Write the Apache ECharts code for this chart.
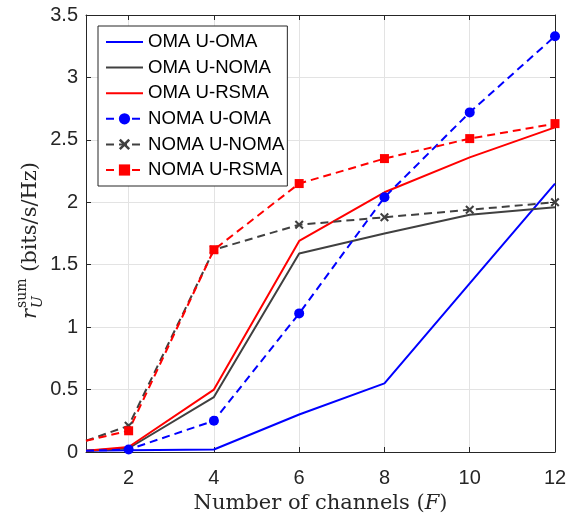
<!DOCTYPE html>
<html>
<head>
<meta charset="utf-8">
<script src="https://cdn.jsdelivr.net/npm/echarts@6/dist/echarts.min.js"></script>
<style>html,body{margin:0;padding:0;background:#fff;}#c{width:580px;height:521px;}</style>
</head>
<body>
<div id="c"></div>
<script>
const xValues = [1, 2, 4, 6, 8, 10, 12];
const xTicks = [2, 4, 6, 8, 10, 12];
const omaUoma  = [0.01, 0.015, 0.02, 0.30, 0.55, 1.35, 2.15];
const omaUnoma = [0.01, 0.03, 0.44, 1.59, 1.75, 1.90, 1.96];
const omaUrsma = [0.01, 0.04, 0.50, 1.69, 2.08, 2.36, 2.60];
const nomaUoma  = [0.01, 0.02, 0.25, 1.11, 2.04, 2.72, 3.33];
const nomaUnoma = [0.09, 0.21, 1.62, 1.82, 1.88, 1.94, 2.00];
const nomaUrsma = [0.09, 0.17, 1.62, 2.15, 2.35, 2.51, 2.63];
const seriesNames = ['OMA U-OMA', 'OMA U-NOMA', 'OMA U-RSMA', 'NOMA U-OMA', 'NOMA U-NOMA', 'NOMA U-RSMA'];

const BLUE = '#0000ff', GRAY = '#404040', RED = '#ff0000';
const XSYM = 'path://M0,1.6L1.6,0L5,3.4L8.4,0L10,1.6L6.6,5L10,8.4L8.4,10L5,6.6L1.6,10L0,8.4L3.4,5Z';

function pts(vals, withMarkers) {
  return xValues.map((x, i) => {
    const p = { value: [x, vals[i]] };
    if (withMarkers && x === 1) p.symbol = 'none';
    return p;
  });
}
function solid(name, vals, color) {
  return { name, type: 'line', data: pts(vals, false), symbol: 'none', clip: false,
    lineStyle: { color, width: 2, type: 'solid' }, itemStyle: { color } };
}
function dashed(name, vals, color, symbol, size) {
  return { name, type: 'line', data: pts(vals, true), symbol, symbolSize: size, showAllSymbol: true, clip: false,
    lineStyle: { color, width: 2, type: [8, 5] }, itemStyle: { color } };
}

const chart = echarts.init(document.getElementById('c'), null, { renderer: 'canvas' });
const axisCol = '#262626';
const gridCol = '#e3e3e3';
const legendData = seriesNames.map((n, i) => i < 3 ? { name: n, itemStyle: { opacity: 0 } } : { name: n });
const option = {
  animation: false,
  backgroundColor: '#fff',
  grid: { left: 86, right: 25, top: 15, bottom: 69, containLabel: false },
  legend: {
    orient: 'vertical', left: 98, top: 26,
    padding: [6.5, 3, 6.5, 7], itemGap: 6.6, itemWidth: 37, itemHeight: 14,
    backgroundColor: '#fff', borderColor: axisCol, borderWidth: 1,
    textStyle: { fontFamily: 'Liberation Sans', fontSize: 18.6, color: '#000' },
    data: legendData
  },
  xAxis: [{
    type: 'value', min: 1, max: 12,
    name: '{a|Number of channels (}{b|F}{a|)}', nameLocation: 'middle', nameGap: 40,
    nameTextStyle: { rich: {
      a: { fontFamily: 'DejaVu Serif', fontSize: 21, color: '#262626' },
      b: { fontFamily: 'DejaVu Serif', fontStyle: 'italic', fontSize: 21, color: '#262626' } } },
    axisLine: { show: true, onZero: false, lineStyle: { color: axisCol, width: 1 } },
    axisTick: { show: true, inside: true, length: 5, customValues: xTicks, lineStyle: { color: axisCol } },
    axisLabel: { customValues: xTicks, margin: 16, fontFamily: 'Liberation Sans', fontSize: 20, color: axisCol },
    splitLine: { show: true, lineStyle: { color: gridCol, width: 1 } }
  }, {
    type: 'value', min: 1, max: 12, position: 'top',
    axisLine: { show: true, onZero: false, lineStyle: { color: axisCol, width: 1 } },
    axisTick: { show: true, inside: true, length: 5, customValues: xTicks, lineStyle: { color: axisCol } },
    axisLabel: { show: false }, splitLine: { show: false }
  }],
  yAxis: [{
    type: 'value', min: 0, max: 3.5, interval: 0.5,
    axisLine: { show: true, onZero: false, lineStyle: { color: axisCol, width: 1 } },
    axisTick: { show: true, inside: true, length: 5, lineStyle: { color: axisCol } },
    axisLabel: { margin: 8, fontFamily: 'Liberation Sans', fontSize: 20, color: axisCol },
    splitLine: { show: true, lineStyle: { color: gridCol, width: 1 } }
  }, {
    type: 'value', min: 0, max: 3.5, interval: 0.5, position: 'right',
    axisLine: { show: true, onZero: false, lineStyle: { color: axisCol, width: 1 } },
    axisTick: { show: true, inside: true, length: 5, lineStyle: { color: axisCol } },
    axisLabel: { show: false }, splitLine: { show: false }
  }],
  series: [
    solid(seriesNames[0], omaUoma, BLUE),
    solid(seriesNames[1], omaUnoma, GRAY),
    solid(seriesNames[2], omaUrsma, RED),
    dashed(seriesNames[3], nomaUoma, BLUE, 'circle', 10),
    dashed(seriesNames[4], nomaUnoma, GRAY, XSYM, 9),
    dashed(seriesNames[5], nomaUrsma, RED, 'rect', 9)
  ],
  graphic: [{
    type: 'group', x: 31, y: 319, rotation: Math.PI / 2,
    children: [
      { type: 'text', x: 0, y: 0, style: { text: 'r', font: 'italic 21px "DejaVu Serif"', fill: '#262626', align: 'left', verticalAlign: 'middle' } },
      { type: 'text', x: 11, y: -9, style: { text: 'sum', font: '14px "DejaVu Serif"', fill: '#262626', align: 'left', verticalAlign: 'middle' } },
      { type: 'text', x: 11, y: 7, style: { text: 'U', font: 'italic 14px "DejaVu Serif"', fill: '#262626', align: 'left', verticalAlign: 'middle' } },
      { type: 'text', x: 47, y: 0, style: { text: '(bits/s/Hz)', font: '21px "DejaVu Serif"', fill: '#262626', align: 'left', verticalAlign: 'middle' } }
    ]
  }]
};
chart.setOption(option);
</script>
</body>
</html>
